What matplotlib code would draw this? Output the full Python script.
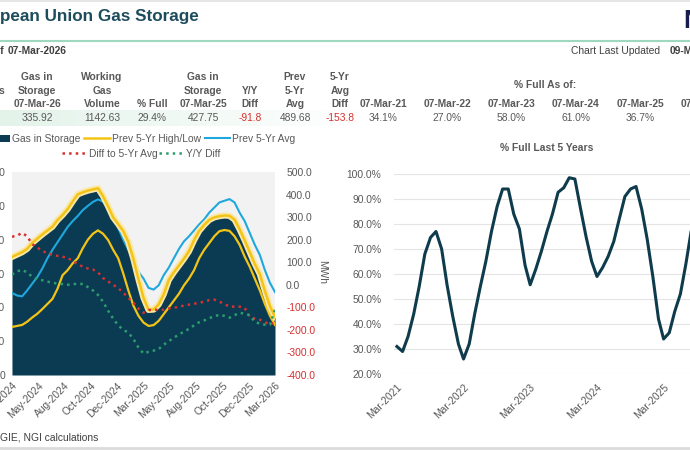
import numpy as np
import pandas as pd
import matplotlib
matplotlib.use('Agg')
import matplotlib.pyplot as plt
import matplotlib.dates as mdates
import matplotlib.patheffects as pe
from matplotlib.patches import Patch
from matplotlib.lines import Line2D

plt.rcParams['font.family'] = ['Liberation Sans', 'DejaVu Sans']

W, H = 690, 450

##########################
###  Storage chart data ###
##########################
store_dates = pd.date_range('2024-03-07', periods=53, freq='14D')

gas_in_storage = [692, 705, 720, 740, 775, 800, 825, 848, 870, 910, 940, 975, 1020, 1062, 1073,
                  1083, 1090, 1098, 1050, 990, 925, 885, 845, 780, 680, 560, 450, 378, 380, 410,
                  470, 555, 600, 640, 680, 725, 790, 845, 880, 910, 925, 932, 936, 934, 912,
                  855, 790, 720, 650, 590, 490, 400, 336]
prev_5yr_high = [698, 712, 726, 746, 781, 806, 831, 854, 877, 916, 946, 981, 1026, 1068, 1080,
                 1090, 1097, 1104, 1057, 997, 932, 892, 851, 787, 687, 567, 457, 385, 387, 417,
                 477, 562, 607, 647, 687, 732, 797, 852, 887, 917, 932, 939, 943, 941, 919,
                 862, 797, 727, 657, 597, 497, 407, 343]
prev_5yr_low = [284, 290, 296, 315, 340, 362, 390, 420, 450, 510, 590, 620, 660, 690, 750,
                800, 835, 855, 835, 798, 740, 690, 600, 500, 410, 350, 310, 290, 295, 320,
                360, 400, 440, 480, 530, 570, 620, 690, 740, 780, 820, 850, 857, 852, 820,
                770, 700, 640, 570, 500, 420, 350, 296]
prev_5yr_avg = [485, 470, 465, 500, 540, 579, 630, 690, 740, 785, 830, 875, 910, 940, 975,
                1000, 1023, 1038, 1025, 990, 945, 870, 800, 740, 680, 610, 570, 515, 505, 530,
                590, 635, 690, 745, 790, 820, 855, 890, 920, 960, 990, 1020, 1030, 1040, 1020,
                960, 910, 840, 770, 710, 620, 545, 490]
diff_to_avg = [213, 218, 230, 215, 180, 165, 150, 140, 133, 128, 124, 120, 105, 92, 80,
               72, 68, 55, 30, 15, 0, -15, -35, -58, -80, -105, -124, -112, -111, -111,
               -111, -105, -102, -98, -92, -88, -84, -80, -75, -68, -66, -75, -85, -97, -97,
               -97, -102, -142, -150, -155, -165, -177, -165]
yy_diff = [45, 60, 66, 55, 35, 25, 20, 14, 9, 5, 3, 0, 2, 5, 3,
           -10, -25, -45, -75, -115, -150, -180, -200, -212, -240, -278, -305, -297, -292, -285,
           -266, -250, -235, -220, -208, -195, -180, -166, -158, -148, -140, -133, -138, -146, -135,
           -124, -128, -135, -165, -172, -177, -177, -110]

store_ticklabels = ['Mar-2024', 'May-2024', 'Aug-2024', 'Oct-2024', 'Dec-2024', 'Mar-2025',
                    'May-2025', 'Aug-2025', 'Oct-2025', 'Dec-2025', 'Mar-2026']

#########################
###  % full chart data ###
#########################
pct_dates = pd.date_range('2021-03-01', periods=55, freq='MS')
pct_full = [31, 29, 35, 44, 55, 68, 74.6, 77, 70, 55.5, 43, 32, 26, 32, 44,
            55, 65, 77, 87, 94, 94, 84, 78, 63.5, 55.7, 62, 69, 77, 84, 92.7,
            94.5, 98.5, 98, 86.5, 75, 65, 59, 62.6, 67, 73, 82, 91, 94, 95, 86,
            74, 59, 42, 34, 36.5, 45, 52, 64, 78, 86]
pct_ticklabels = ['Mar-2021', 'Mar-2022', 'Mar-2023', 'Mar-2024', 'Mar-2025', 'Mar-2026']

###################
###  Table data ###
###################
table_headers = [['Gas in', 'Storage', '07-Mar-26'], ['Working', 'Gas', 'Volume'], ['% Full'],
                 ['Gas in', 'Storage', '07-Mar-25'], ['Y/Y', 'Diff'], ['Prev', '5-Yr', 'Avg'],
                 ['5-Yr', 'Avg', 'Diff']]
table_values = ['335.92', '1142.63', '29.4%', '427.75', '-91.8', '489.68', '-153.8']
asof_dates = ['07-Mar-21', '07-Mar-22', '07-Mar-23', '07-Mar-24', '07-Mar-25', '07-Mar-26']
asof_pct = ['34.1%', '27.0%', '58.0%', '61.0%', '36.7%', '29.4%']

NAVY = '#0a3b53'
YEL = '#f3c416'
BLUE = '#1fa8de'
RED = '#d7302f'
GREEN = '#2e9c6c'
GREY = '#595959'
FS = 7.4

fig = plt.figure(figsize=(W / 100, H / 100), dpi=100)

# background axes in pixel coords (for header / table text)
bg = fig.add_axes([0, 0, 1, 1], zorder=-5)
bg.set_xlim(0, W)
bg.set_ylim(H, 0)
bg.axis('off')

bg.axhline(0.8, color='#e2e2e2', lw=1.2)
bg.axhline(40.5, color='#9dd8bf', lw=1.5)
bg.axhline(447.5, color='#dcdcdc', lw=2)

bg.text(-39, 16, 'European Union Gas Storage', fontsize=12.3, fontweight='bold',
        color='#1d4d5c', va='center', ha='left')
bg.text(683, 21, 'NGI', fontsize=19, fontweight='bold', color='#161c4c', va='center', ha='left')

bg.text(4, 51, 'As of', fontsize=FS, fontweight='bold', color='#404040', ha='right', va='center')
bg.text(8, 51, '07-Mar-2026', fontsize=FS, fontweight='bold', color='#404040', ha='left', va='center')
bg.text(660, 51, 'Chart Last Updated', fontsize=FS, color='#404040', ha='right', va='center')
bg.text(670, 51, '09-Mar-2026', fontsize=FS, fontweight='bold', color='#404040', ha='left', va='center')

# mint band behind the values row, fading to the right
grad = np.linspace(1, 0, 256).reshape(1, -1)
mint = matplotlib.colors.LinearSegmentedColormap.from_list('mint', ['#ffffff', '#e3f3ea'])
bg.imshow(grad, extent=(0, 360, 126, 110), cmap=mint, aspect='auto', zorder=0)
bg.set_xlim(0, W)
bg.set_ylim(H, 0)

row_y = [77, 90.5, 104]
col_x = [37, 102, 152, 203, 250, 295, 340]
bg.text(1, 90.5, 's', fontsize=FS, fontweight='bold', color=GREY, ha='center', va='center')
for cx, hdr, val in zip(col_x, table_headers, table_values):
    for i, line in enumerate(hdr):
        bg.text(cx, row_y[3 - len(hdr) + i], line, fontsize=FS, fontweight='bold',
                color=GREY, ha='center', va='center')
    bg.text(cx, 118, val, fontsize=FS, color=RED if val.startswith('-') else GREY,
            ha='center', va='center')

bg.text(545, 85, '% Full As of:', fontsize=FS, fontweight='bold', color=GREY, ha='center', va='center')
for i, (d, p) in enumerate(zip(asof_dates, asof_pct)):
    cx = 383 + i * 64.3
    bg.text(cx, 104, d, fontsize=FS, fontweight='bold', color=GREY, ha='center', va='center')
    bg.text(cx, 118, p, fontsize=FS, color=GREY, ha='center', va='center')

bg.text(-2, 438, 'Source:', fontsize=FS, color='#404040', ha='right', va='center')
bg.text(0, 438, 'GIE, NGI calculations', fontsize=FS, color='#404040', ha='left', va='center')

#######################
###  Storage chart  ###
#######################
ax = fig.add_axes([12 / W, 1 - 375 / H, 263 / W, 203 / H])
ax.set_facecolor('#f2f2f2')
ax.fill_between(store_dates, gas_in_storage, 0, color=NAVY, lw=0, zorder=1)
ax.plot(store_dates, prev_5yr_low, color=YEL, lw=1.6, zorder=2)
ax.plot(store_dates, prev_5yr_avg, color=BLUE, lw=1.5, zorder=3)
ax.plot(store_dates, prev_5yr_high, color=YEL, lw=1.8, zorder=4,
        path_effects=[pe.Stroke(linewidth=4.5, foreground='#fbe7a6'), pe.Normal()])
ax.set_ylim(0, 1200)
ax.set_xlim(store_dates[0], store_dates[-1])
ax.set_yticks(range(0, 1201, 200))
ax.tick_params(axis='y', length=0, pad=5, labelsize=FS, labelcolor=GREY)
xt = np.linspace(mdates.date2num(store_dates[0]), mdates.date2num(store_dates[-1]), len(store_ticklabels))
ax.set_xticks(xt, store_ticklabels, rotation=45, ha='right', rotation_mode='anchor')
ax.tick_params(axis='x', length=0, pad=4, labelsize=FS, labelcolor=GREY)
for s in ax.spines.values():
    s.set_visible(False)

ax2 = ax.twinx()
ax2.plot(store_dates, diff_to_avg, color=RED, lw=1.8, ls=':', zorder=5)
ax2.plot(store_dates, yy_diff, color=GREEN, lw=1.8, ls=':', zorder=5)
ax2.set_ylim(-400, 500)
rt = list(range(-400, 501, 100))
ax2.set_yticks(rt, [f'{v:.1f}' for v in rt])
ax2.tick_params(axis='y', length=0, pad=8, labelsize=FS, labelcolor=GREY)
for v, lab in zip(rt, ax2.get_yticklabels()):
    if v < 0:
        lab.set_color(RED)
for s in ax2.spines.values():
    s.set_visible(False)
bg.text(322, 272, 'MWh', fontsize=FS, color=GREY, rotation=270, ha='center', va='center')

h1 = [Patch(facecolor=NAVY), Line2D([], [], color=YEL, lw=1.8), Line2D([], [], color=BLUE, lw=1.5)]
fig.legend(h1, ['Gas in Storage', 'Prev 5-Yr High/Low', 'Prev 5-Yr Avg'], ncol=3, loc='center',
           bbox_to_anchor=(140 / W, 1 - 139 / H), frameon=False, fontsize=FS, handlelength=2.5,
           handletextpad=0.15, columnspacing=0.4, labelcolor=GREY, borderpad=0)
h2 = [Line2D([], [], color=RED, lw=1.8, ls=':'), Line2D([], [], color=GREEN, lw=1.8, ls=':')]
fig.legend(h2, ['Diff to 5-Yr Avg', 'Y/Y Diff'], ncol=2, loc='center',
           bbox_to_anchor=(141 / W, 1 - 154 / H), frameon=False, fontsize=FS, handlelength=2.5,
           handletextpad=0.15, columnspacing=0.1, labelcolor=GREY, borderpad=0)

######################
###  % full chart  ###
######################
axr = fig.add_axes([394 / W, 1 - 374 / H, 349 / W, 200 / H])
axr.plot(pct_dates, pct_full, color='#0f3c4c', lw=2.2, solid_joinstyle='round')
axr.set_ylim(20, 100)
yt = list(range(20, 101, 10))
axr.set_yticks(yt, [f'{v:.1f}%' for v in yt])
axr.grid(axis='y', color='#e4e4e4', lw=0.8)
axr.set_axisbelow(True)
axr.set_xlim(pd.Timestamp('2021-02-13'), pd.Timestamp('2026-05-10'))
axr.set_xticks(pd.to_datetime(pct_ticklabels, format='%b-%Y'), pct_ticklabels,
               rotation=45, ha='right', rotation_mode='anchor')
axr.tick_params(axis='both', length=0, labelsize=FS, labelcolor=GREY)
axr.tick_params(axis='y', pad=9)
axr.tick_params(axis='x', pad=6)
for s in axr.spines.values():
    s.set_visible(False)
bg.text(547, 148, '% Full Last 5 Years', fontsize=FS, fontweight='bold', color=GREY, ha='center', va='center')

fig.savefig('out.png', dpi=100)
